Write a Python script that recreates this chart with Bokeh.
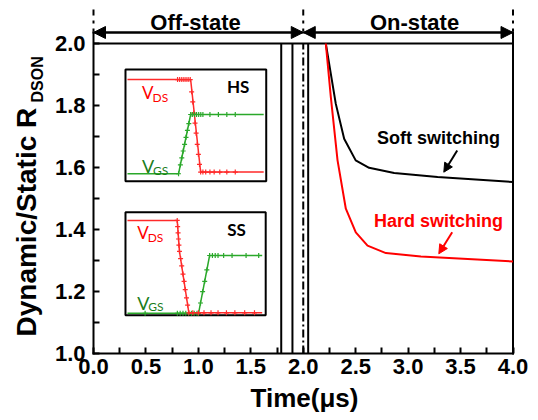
import math
from bokeh.plotting import figure
from bokeh.models import Range1d, FixedTicker, Label, Arrow, NormalHead
from bokeh.embed import file_html
from bokeh.resources import INLINE

# ---------------- data ----------------
soft_t = [2.215, 2.263, 2.31, 2.39, 2.50, 2.628, 2.867, 3.281, 4.0]
soft_r = [2.0, 1.902, 1.806, 1.693, 1.623, 1.599, 1.582, 1.569, 1.553]
hard_t = [2.215, 2.263, 2.327, 2.406, 2.501, 2.613, 2.788, 3.122, 4.0]
hard_r = [2.0, 1.827, 1.623, 1.467, 1.391, 1.348, 1.324, 1.313, 1.297]

x_ticks = [0.0, 0.5, 1.0, 1.5, 2.0, 2.5, 3.0, 3.5, 4.0]
x_tick_labels = ["0.0", "0.5", "1.0", "1.5", "2.0", "2.5", "3.0", "3.5", "4.0"]
x_minor = [0.25, 0.75, 1.25, 1.75, 2.25, 2.75, 3.25, 3.75]
y_ticks = [1.0, 1.2, 1.4, 1.6, 1.8, 2.0]
y_tick_labels = ["1.0", "1.2", "1.4", "1.6", "1.8", "2.0"]
y_minor = [1.1, 1.3, 1.5, 1.7, 1.9]

x_min, x_max = 0.0, 4.0
y_min, y_max = 1.0, 2.0
y_top = 2.0355            # top edge of the plot box (arrow line)
phase_x = [0.0, 2.0, 4.0]  # Off-state / On-state boundaries

break_solid_x = [1.79, 1.897, 2.047]
break_dash_x = [2.0]

# inset waveforms (normalised: u = time 0..1, v = voltage 0..1)
hs_vds_u = [0.014, 0.463, 0.534, 0.982]
hs_vds_v = [0.91, 0.91, 0.081, 0.081]
hs_vgs_u = [0.014, 0.377, 0.463, 0.982]
hs_vgs_v = [0.066, 0.066, 0.597, 0.597]
hs_vds_mu = [0.37, 0.385, 0.40, 0.415, 0.43, 0.445, 0.46, 0.47, 0.478, 0.486, 0.494, 0.502,
             0.51, 0.518, 0.526, 0.534, 0.55, 0.57, 0.60, 0.63, 0.67, 0.72, 0.78]
hs_vds_mv = [0.91, 0.91, 0.91, 0.91, 0.91, 0.91, 0.91, 0.80, 0.71, 0.61, 0.52, 0.43,
             0.33, 0.24, 0.15, 0.081, 0.081, 0.081, 0.081, 0.081, 0.081, 0.081, 0.081]
hs_vgs_mu = [0.377, 0.39, 0.40, 0.41, 0.42, 0.43, 0.44, 0.45, 0.463, 0.475, 0.49, 0.505,
             0.52, 0.535, 0.55, 0.60, 0.66, 0.72, 0.78]
hs_vgs_mv = [0.066, 0.146, 0.208, 0.27, 0.33, 0.393, 0.455, 0.516, 0.597, 0.597, 0.597, 0.597,
             0.597, 0.597, 0.597, 0.597, 0.597, 0.597, 0.597]

ss_vds_u = [0.014, 0.369, 0.385, 0.452, 0.975]
ss_vds_v = [0.92, 0.92, 0.62, 0.025, 0.025]
ss_vgs_u = [0.014, 0.521, 0.60, 0.975]
ss_vgs_v = [0.02, 0.02, 0.58, 0.58]
ss_vds_mu = [0.369, 0.372, 0.375, 0.378, 0.381, 0.385, 0.393, 0.401, 0.41, 0.418, 0.426, 0.435,
             0.443, 0.452, 0.48, 0.52, 0.56, 0.61, 0.66, 0.72, 0.78, 0.85, 0.92]
ss_vds_mv = [0.92, 0.86, 0.80, 0.74, 0.68, 0.62, 0.55, 0.48, 0.40, 0.33, 0.25, 0.17,
             0.10, 0.025, 0.025, 0.025, 0.025, 0.025, 0.025, 0.025, 0.025, 0.025, 0.025]
ss_vgs_mu = [0.14, 0.37, 0.39, 0.41, 0.43, 0.45, 0.47, 0.49, 0.51, 0.521, 0.535, 0.55, 0.565,
             0.58, 0.60, 0.62, 0.64, 0.66, 0.70, 0.76, 0.86, 0.95]
ss_vgs_mv = [0.02, 0.02, 0.02, 0.02, 0.02, 0.02, 0.02, 0.02, 0.02, 0.02, 0.12, 0.23, 0.33,
             0.44, 0.58, 0.58, 0.58, 0.58, 0.58, 0.58, 0.58, 0.58]

# inset box extents in chart coordinates (x0, x1, y0, y1)
hs_box = (0.305, 1.647, 1.556, 1.916)
ss_box = (0.305, 1.642, 1.123, 1.456)

RED = "#ff0000"
IN_RED = "#ff2a2a"
IN_GREEN = "#2aa82a"
LBL_GREEN = "#1b7d1b"
FONT = "Liberation Sans"

# pixel layout of the box inside the 538x420 canvas
PX_L, PX_R, PX_T2, PX_B = 93.0, 512.5, 43.0, 353.0
XS = (PX_R - PX_L) / (x_max - x_min)
YS = (PX_B - PX_T2) / (y_max - y_min)

p = figure(width=538, height=420,
           x_range=Range1d(x_min - PX_L / XS, x_max + (538 - PX_R) / XS),
           y_range=Range1d(y_min - (420 - PX_B) / YS, y_max + PX_T2 / YS),
           output_backend="svg", toolbar_location=None,
           min_border_left=0, min_border_right=0, min_border_top=0, min_border_bottom=0)
p.grid.visible = False
p.background_fill_color = "white"
p.border_fill_color = "white"
p.outline_line_color = None

for ax in (p.xaxis[0], p.yaxis[0]):
    ax.axis_line_color = None
    ax.major_tick_in = 6
    ax.major_tick_out = 0
    ax.minor_tick_in = 6
    ax.minor_tick_out = 0
    ax.major_tick_line_width = 2
    ax.minor_tick_line_width = 2
    ax.major_label_text_font = FONT
    ax.major_label_text_font_style = "bold"
    ax.major_label_text_font_size = "22px"
    ax.major_label_text_color = "black"

p.xaxis.fixed_location = y_min
p.yaxis.fixed_location = x_min
p.xaxis.ticker = FixedTicker(ticks=x_ticks, minor_ticks=x_minor)
p.xaxis.major_label_overrides = {t: l for t, l in zip(x_ticks, x_tick_labels)}
p.xaxis.major_label_standoff = 5
p.yaxis.ticker = FixedTicker(ticks=y_ticks, minor_ticks=y_minor)
p.yaxis.major_label_overrides = {t: l for t, l in zip(y_ticks, y_tick_labels)}
p.yaxis.major_label_standoff = 8

# plot box
p.segment(x0=[x_min, x_max, x_min, x_min], y0=[y_min, y_min, y_min, y_top],
          x1=[x_min, x_max, x_max, x_max], y1=[y_top, y_top, y_min, y_top],
          line_color="black", line_width=2, line_cap="square")

# horizontal line at 2.0 and axis break lines
p.segment(x0=[x_min], y0=[y_max], x1=[x_max], y1=[y_max], line_color="black", line_width=2)
p.segment(x0=break_solid_x, y0=[y_min] * 3, x1=break_solid_x, y1=[y_max] * 3,
          line_color="black", line_width=2)
p.segment(x0=break_dash_x, y0=[y_min], x1=break_dash_x, y1=[y_max],
          line_color="black", line_width=2, line_dash="8 3 2 3")

# main curves
p.line(soft_t, soft_r, line_color="black", line_width=2)
p.line(hard_t, hard_r, line_color=RED, line_width=2)


def to_box(box, u, v):
    x0, x1, y0, y1 = box
    return [x0 + a * (x1 - x0) for a in u], [y0 + b * (y1 - y0) for b in v]


for box in (hs_box, ss_box):
    p.quad(left=[box[0]], right=[box[1]], bottom=[box[2]], top=[box[3]],
           fill_color="white", line_color="black", line_width=2)

for box, (lu, lv, mu, mv), col in [
    (hs_box, (hs_vds_u, hs_vds_v, hs_vds_mu, hs_vds_mv), IN_RED),
    (hs_box, (hs_vgs_u, hs_vgs_v, hs_vgs_mu, hs_vgs_mv), IN_GREEN),
    (ss_box, (ss_vgs_u, ss_vgs_v, ss_vgs_mu, ss_vgs_mv), IN_GREEN),
    (ss_box, (ss_vds_u, ss_vds_v, ss_vds_mu, ss_vds_mv), IN_RED),
]:
    xs, ys = to_box(box, lu, lv)
    p.line(xs, ys, line_color=col, line_width=1.5)
    mx, my = to_box(box, mu, mv)
    p.scatter(mx, my, marker="cross", size=5, line_color=col, line_width=1.2)


# --------------- annotations ---------------
def X(px):
    return x_min + (px - PX_L) / XS


def Y(py):
    return y_max - (py - PX_T2) / YS


def lab(text, px, py, size, color="black", style="bold", font=FONT, align="left", rotated=False):
    # px, py: pixel position of the text baseline start (or centre when align="center")
    shift = 0.25 * size
    if rotated:
        x, y, angle = X(px - shift), Y(py), math.pi / 2
    else:
        x, y, angle = X(px), Y(py - shift), 0.0
    p.add_layout(Label(x=x, y=y, text=text, text_font=font, text_font_size=f"{size}px",
                       text_font_style=style, text_color=color, text_align=align,
                       text_baseline="alphabetic", angle=angle))


# top arrows and dotted phase markers
for xs, xe in zip(phase_x[:-1], phase_x[1:]):
    p.add_layout(Arrow(x_start=xs, y_start=y_top, x_end=xe, y_end=y_top,
                       start=NormalHead(size=12, fill_color="black", line_color="black"),
                       end=NormalHead(size=12, fill_color="black", line_color="black"),
                       line_color="black", line_width=2))
p.segment(x0=phase_x, y0=[Y(9)] * 3, x1=phase_x, y1=[Y(31)] * 3,
          line_color="black", line_width=2, line_dash="6 5 3 5")

lab("Off-state", 195, 27, 22, align="center")
lab("On-state", 414, 27, 22, align="center")

# axis titles
lab("Time(\u03bcs)", 304, 404, 26, align="center")
lab("Dynamic/Static R", 33, 336, 28, rotated=True)
lab("DSON", 41, 102, 16, rotated=True)

# curve labels and arrows
lab("Soft switching", 438, 141.7, 18, align="center")
lab("Hard switching", 438, 225, 18, color=RED, align="center")
p.add_layout(Arrow(x_start=X(456.7), y_start=Y(150), x_end=X(443.3), y_end=Y(171.7),
                   end=NormalHead(size=9, fill_color="black", line_color="black"),
                   line_color="black", line_width=2))
p.add_layout(Arrow(x_start=X(451.7), y_start=Y(231.7), x_end=X(438.3), y_end=Y(253.3),
                   end=NormalHead(size=9, fill_color=RED, line_color=RED),
                   line_color=RED, line_width=2))

# inset labels
IF = "Lato"
lab("V", 141.5, 96.7, 17, color=RED, style="normal", font=IF)
lab("DS", 152, 99.5, 12, color=RED, style="normal", font=IF)
lab("V", 141.5, 170, 18, color=LBL_GREEN, style="normal", font=IF)
lab("GS", 152.5, 172.5, 12, color=LBL_GREEN, style="normal", font=IF)
lab("HS", 226.5, 90.7, 17, font=IF)
lab("V", 136.7, 236.7, 17, color=RED, style="normal", font=IF)
lab("DS", 147.2, 239.5, 12, color=RED, style="normal", font=IF)
lab("V", 136.7, 306.7, 18, color=LBL_GREEN, style="normal", font=IF)
lab("GS", 147.7, 309.2, 12, color=LBL_GREEN, style="normal", font=IF)
lab("SS", 226.7, 233, 17, font=IF)

open("out.html", "w").write(file_html(p, INLINE))
